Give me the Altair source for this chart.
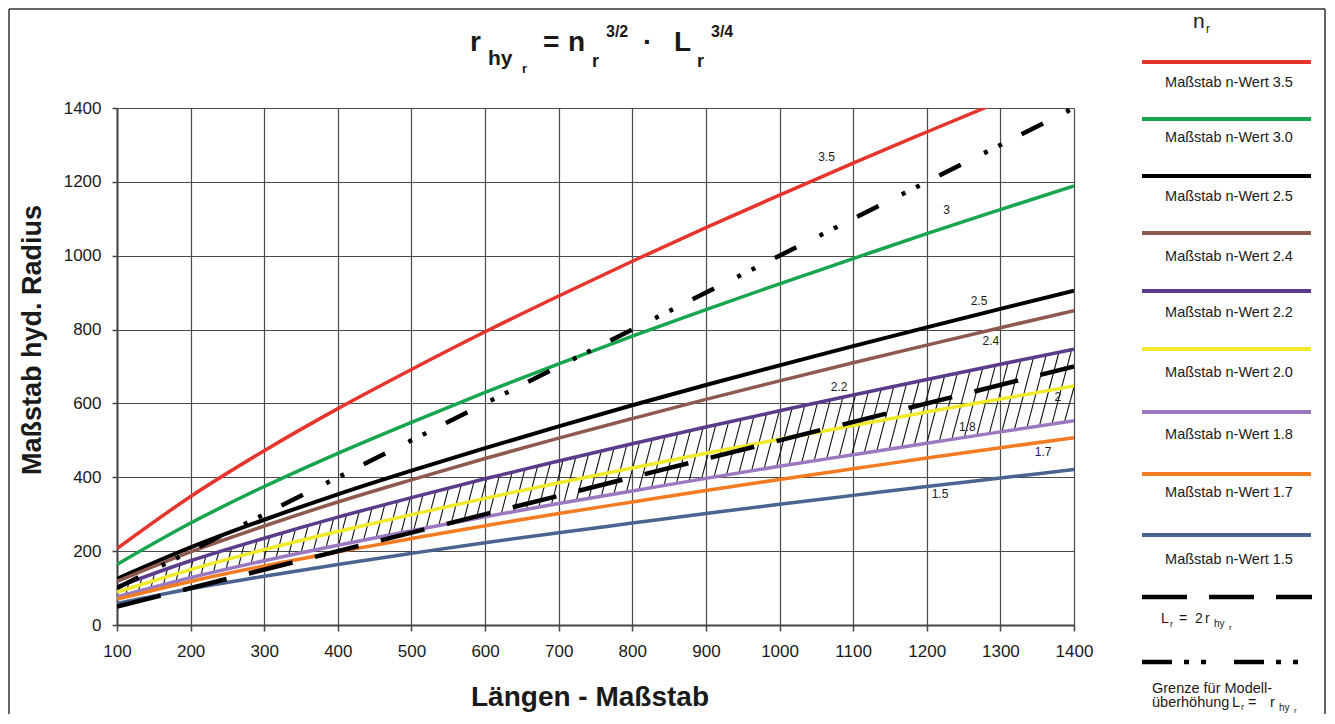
import altair as alt
import numpy as np
import pandas as pd

# ---------------- data ----------------
L_VALUES = [100, 200, 300, 400, 500, 600, 700, 800, 900, 1000, 1100, 1200, 1300, 1400]
Y_TICKS = [0, 200, 400, 600, 800, 1000, 1200, 1400]

R_N35 = [207, 348, 472, 586, 692, 794, 891, 985, 1076, 1164, 1251, 1335, 1418]
R_N30 = [164, 276, 375, 465, 549, 630, 707, 782, 854, 924, 992, 1060, 1125, 1189]
R_N25 = [125, 210, 285, 354, 418, 479, 538, 595, 650, 703, 755, 806, 856, 905]
R_N24 = [118, 198, 268, 333, 393, 451, 506, 559, 611, 661, 710, 758, 805, 851]
R_N22 = [103, 174, 235, 292, 345, 396, 444, 491, 536, 580, 623, 665, 706, 747]
R_N20 = [89, 150, 204, 253, 299, 343, 385, 425, 465, 503, 540, 577, 612, 647]
R_N18 = [76, 128, 174, 216, 255, 293, 329, 363, 397, 430, 461, 492, 523, 553]
R_N17 = [70, 118, 160, 198, 234, 269, 302, 333, 364, 394, 423, 452, 480, 507]
R_N15 = [58, 98, 132, 164, 194, 223, 250, 276, 302, 327, 351, 375, 398, 421]

LIMIT_L = [100, 1400]
R_HALF = [50, 700]      # L_r = 2 r_hy
R_EQUAL = [100, 1400]   # L_r = r_hy

SERIES_NAMES = ["Maßstab n-Wert 3.5", "Maßstab n-Wert 3.0", "Maßstab n-Wert 2.5",
                "Maßstab n-Wert 2.4", "Maßstab n-Wert 2.2", "Maßstab n-Wert 2.0",
                "Maßstab n-Wert 1.8", "Maßstab n-Wert 1.7", "Maßstab n-Wert 1.5"]
SERIES_VALUES = [R_N35, R_N30, R_N25, R_N24, R_N22, R_N20, R_N18, R_N17, R_N15]
CURVE_LABELS = ["3.5", "3", "2.5", "2.4", "2.2", "2", "1.8", "1.7", "1.5"]
CURVE_LABEL_L = [1064, 1227, 1271, 1287, 1081, 1378, 1255, 1358, 1218]
CURVE_LABEL_R = [1267, 1124, 877, 769, 644, 617, 536, 468, 355]

# ---------------- styles ----------------
COLORS = ["#e5352c", "#18a54f", "#000000", "#8e5a4f", "#5a3b8c",
          "#f0ea2a", "#9a79c1", "#f37b21", "#4a6390"]
FONT = "Liberation Sans, Arial, Helvetica, sans-serif"
TXT = "#1a1a1a"
W, H = 957, 517
OX, OY = 117, 108   # page position of the plot origin

x_scale = alt.Scale(domain=[100, 1400], nice=False, zero=False)
y_scale = alt.Scale(domain=[0, 1400], nice=False, zero=True)
x_axis = alt.Axis(values=L_VALUES, title=None, format="d", labelFont=FONT, labelFontSize=17,
                  labelColor=TXT, tickSize=6, tickColor="#444", tickWidth=1.5,
                  domainColor="#444", domainWidth=2, gridColor="#4a4a4a", gridWidth=1.2,
                  labelPadding=12, labelFlush=False)
y_axis = alt.Axis(values=Y_TICKS, title=None, format="d", labelFont=FONT, labelFontSize=17,
                  labelColor=TXT, tickSize=5, tickColor="#444", tickWidth=1.5,
                  domainColor="#444", domainWidth=2, gridColor="#4a4a4a", gridWidth=1.2,
                  labelPadding=11)

X = alt.X("L:Q", scale=x_scale, axis=x_axis)
Y = alt.Y("r:Q", scale=y_scale, axis=y_axis)

layers = []

# hatch band between n=1.8 and n=2.2
xb = np.arange(95.0, 1400.0, 17.0)
yb = np.interp(xb, L_VALUES, R_N18)
band_px = (np.interp(xb, L_VALUES, R_N22) - yb) * (H / 1400.0)
xt = xb + 0.28 * band_px / (W / 1300.0)
yt = np.interp(xt, L_VALUES, R_N22)
hatch = pd.DataFrame({"L": xb, "r": yb, "L2": xt, "r2": yt})
layers.append(alt.Chart(hatch).mark_rule(color="#111", strokeWidth=1.1, clip=True).encode(
    x=X, y=Y, x2="L2:Q", y2="r2:Q"))

# curves
for name, vals, col in zip(SERIES_NAMES, SERIES_VALUES, COLORS):
    df = pd.DataFrame({"L": L_VALUES[:len(vals)], "r": vals})
    layers.append(alt.Chart(df).mark_line(color=col, strokeWidth=4 if col == "#000000" else 3.5,
                                          clip=True, interpolate="monotone").encode(x=X, y=Y))

half = pd.DataFrame({"L": LIMIT_L, "r": R_HALF})
layers.append(alt.Chart(half).mark_line(color="#000", strokeWidth=4.5, strokeDash=[45, 23],
                                        strokeCap="butt", clip=True).encode(x=X, y=Y))
equal = pd.DataFrame({"L": LIMIT_L, "r": R_EQUAL})
layers.append(alt.Chart(equal).mark_line(color="#000", strokeWidth=4.5,
                                         strokeDash=[24, 26, 4, 12, 4, 22],
                                         strokeCap="butt", clip=True).encode(x=X, y=Y))

# curve labels
lab = pd.DataFrame({"L": CURVE_LABEL_L, "r": CURVE_LABEL_R, "t": CURVE_LABELS})
layers.append(alt.Chart(lab).mark_text(font=FONT, fontSize=12, color=TXT).encode(
    x=X, y=Y, text="t:N"))


# ---------------- pixel-placed decorations ----------------
def ptext(rows, weight="normal", align="left", baseline="alphabetic", angle=0):
    df = pd.DataFrame(rows, columns=["t", "px", "py", "fs"])
    df["px"] = df["px"] - OX
    df["py"] = df["py"] - OY
    return alt.Chart(df).mark_text(font=FONT, fontWeight=weight, align=align,
                                   baseline=baseline, angle=angle, color=TXT).encode(
        x=alt.X("px:Q", scale=None, axis=None),
        y=alt.Y("py:Q", scale=None, axis=None),
        text="t:N",
        size=alt.Size("fs:Q", scale=None, legend=None))


TITLE_PIECES = [("r", 470, 51, 28), ("hy", 488, 65, 21), ("r", 522, 73, 13),
                ("=", 543, 51, 28), ("n", 568, 51, 28), ("r", 592, 67, 18),
                ("3/2", 606, 37, 16), ("·", 643, 51, 28), ("L", 674, 51, 28),
                ("r", 697, 67, 18), ("3/4", 711, 37, 16)]
layers.append(ptext(TITLE_PIECES, weight="bold"))
layers.append(ptext([("Längen - Maßstab", 590, 706, 28)], weight="bold", align="center"))
layers.append(ptext([("Maßstab hyd. Radius", 33, 340, 27)], weight="bold", align="center",
                    baseline="middle", angle=270))

# legend
LEG_LINE_Y = [62, 119, 176, 233, 291, 349, 412, 474, 535]
LEG_TEXT_Y = [83, 138, 197, 257, 313, 373, 435, 493, 560]
leg = pd.DataFrame({"x1": 1142 - OX, "x2": 1311 - OX,
                    "y": [v - OY for v in LEG_LINE_Y], "c": COLORS})
layers.append(alt.Chart(leg).mark_rule(strokeWidth=4).encode(
    x=alt.X("x1:Q", scale=None, axis=None), x2="x2:Q",
    y=alt.Y("y:Q", scale=None, axis=None),
    color=alt.Color("c:N", scale=None, legend=None)))
layers.append(alt.Chart(pd.DataFrame({"a": [0]})).mark_rule(
    strokeWidth=4.5, color="#000", strokeDash=[45, 22], strokeCap="butt").encode(
    x=alt.value(1142 - OX), x2=alt.value(1312 - OX), y=alt.value(597 - OY)))
layers.append(alt.Chart(pd.DataFrame({"a": [0]})).mark_rule(
    strokeWidth=4.5, color="#000", strokeDash=[30, 12, 5, 12, 5, 28], strokeCap="butt").encode(
    x=alt.value(1142 - OX), x2=alt.value(1312 - OX), y=alt.value(662 - OY)))

layers.append(ptext([(n, 1229, y, 14.5) for n, y in zip(SERIES_NAMES, LEG_TEXT_Y)],
                    align="center", baseline="middle"))
LEGEND_FORMULAS = [("n", 1193, 28, 21), ("r", 1206, 33, 12),
                   ("L", 1161, 623, 14), ("r", 1170, 627, 9), ("=", 1179, 623, 14),
                   ("2", 1195, 623, 14), ("r", 1205, 623, 14), ("hy", 1214, 627, 10),
                   ("r", 1229, 630, 8),
                   ("Grenze für Modell-", 1152, 693, 14.5),
                   ("überhöhung", 1152, 707, 14.5), ("L", 1232, 707, 14.5),
                   ("r", 1241, 710, 9), ("=", 1248, 707, 14.5), ("r", 1270, 707, 14.5),
                   ("hy", 1279, 711, 10), ("r", 1294, 713, 8)]
layers.append(ptext(LEGEND_FORMULAS))

# outer frame (top, left, right)
FR_L, FR_T, FR_R, FR_B = 9 - OX, 9 - OY, 1325 - OX, 720 - OY
for (a, b, c, d) in [(FR_L, FR_R, FR_T, FR_T), (FR_L, FR_L, FR_T, FR_B), (FR_R, FR_R, FR_T, FR_B)]:
    layers.append(alt.Chart(pd.DataFrame({"a": [0]})).mark_rule(
        color="#333", strokeWidth=1.5).encode(
        x=alt.value(a), x2=alt.value(b), y=alt.value(c), y2=alt.value(d)))

chart = alt.layer(*layers).properties(
    width=W, height=H,
    autosize=alt.AutoSizeParams(type="none"),
    padding={"left": OX - 8, "top": OY - 8, "right": 1318 - (OX - 8) - W,
             "bottom": 706 - (OY - 8) - H},
    background="white",
).configure_view(stroke=None)

chart.save("out.html", embed_options={"renderer": "svg", "actions": False})
